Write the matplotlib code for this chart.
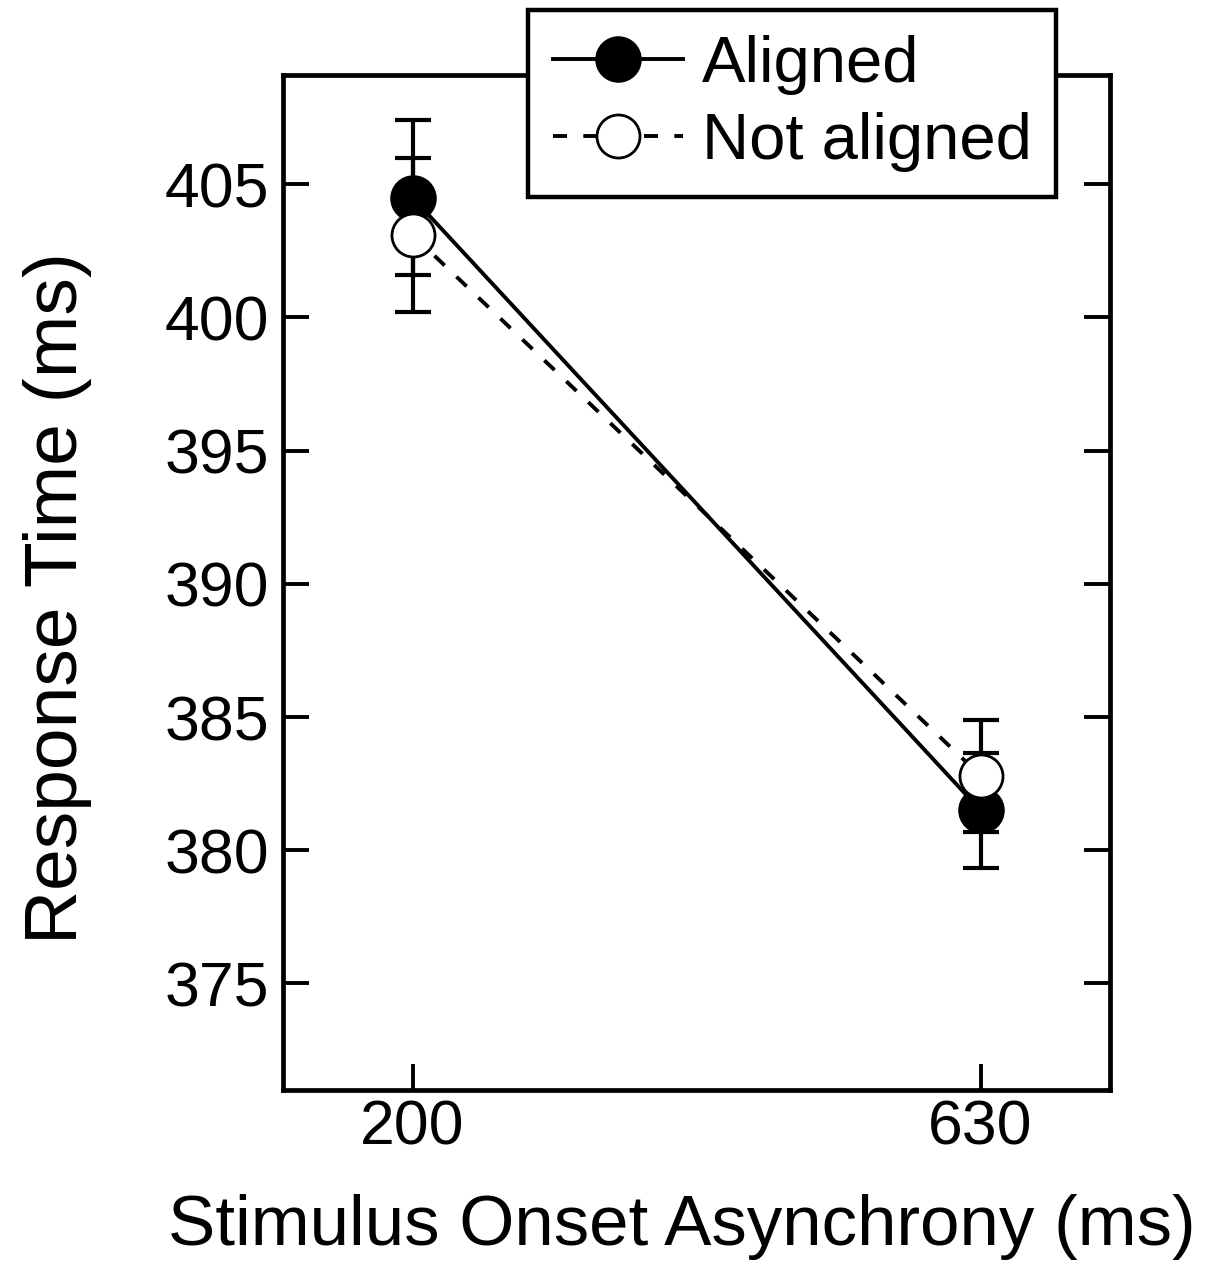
#!/usr/bin/python3
"""
Response time vs stimulus onset asynchrony, aligned vs not aligned
"""

import numpy as np
import matplotlib
matplotlib.use('Agg')
import matplotlib.pyplot as plt

# Data
soa           = [200, 630]
alignedRT     = [404.5, 381.5]
alignedErr    = [2.9, 2.15]
notAlignedRT  = [403.1, 382.8]
notAlignedErr = [2.9, 2.1]
yTicks        = [375, 380, 385, 390, 395, 400, 405]

def main():
	plt.rcParams['font.family'] = ['Liberation Sans', 'DejaVu Sans']

	fig = plt.figure(figsize=(12.15, 12.74), dpi=100)
	ax = fig.add_axes([0.233, 0.1444, 0.6806, 0.7967])

	# Aligned (filled) series
	ax.errorbar(soa, alignedRT, yerr=alignedErr, fmt='none', ecolor='black',
				elinewidth=3, capsize=13, capthick=3, zorder=2)
	ax.plot(soa, alignedRT, '-', color='black', lw=2.8, marker='o',
			markersize=32, markerfacecolor='black', markeredgecolor='black',
			markeredgewidth=1.5, label='Aligned', zorder=3)

	# Not aligned (open) series
	ax.errorbar(soa, notAlignedRT, yerr=notAlignedErr, fmt='none', ecolor='black',
				elinewidth=3, capsize=13, capthick=3, zorder=2)
	ax.plot(soa, notAlignedRT, color='black', lw=2.8, linestyle=(0, (3.6, 4.2)),
			marker='o', markersize=31, markerfacecolor='white',
			markeredgecolor='black', markeredgewidth=2, label='Not aligned',
			zorder=4)

	ax.set_xlim(102, 728)
	ax.set_ylim(371, 409.1)
	ax.set_xticks(soa)
	ax.set_yticks(yTicks)
	ax.tick_params(axis='both', direction='in', length=19, width=2.8,
				   labelsize=45)
	ax.tick_params(axis='y', right=True, pad=10)
	ax.tick_params(axis='x', pad=6)
	for s in ax.spines.values():
		s.set_linewidth(3.4)

	ax.set_ylabel('Response Time (ms)', fontsize=54)
	ax.yaxis.set_label_coords(-0.231, 0.485)
	ax.set_xlabel('Stimulus Onset Asynchrony (ms)', fontsize=51)
	ax.xaxis.set_label_coords(0.482, -0.102)

	leg = ax.legend(loc='upper left', bbox_to_anchor=(0.4346, 0.992),
					bbox_transform=fig.transFigure, borderaxespad=0,
					fontsize=47, frameon=True, fancybox=False,
					handlelength=2.0, handletextpad=0.28, labelspacing=0.26,
					borderpad=0.38, framealpha=1, edgecolor='black')
	leg.get_frame().set_linewidth(3.2)
	leg.set_zorder(10)

	fig.savefig('out.png', dpi=100)

if __name__ == '__main__':
	main()
